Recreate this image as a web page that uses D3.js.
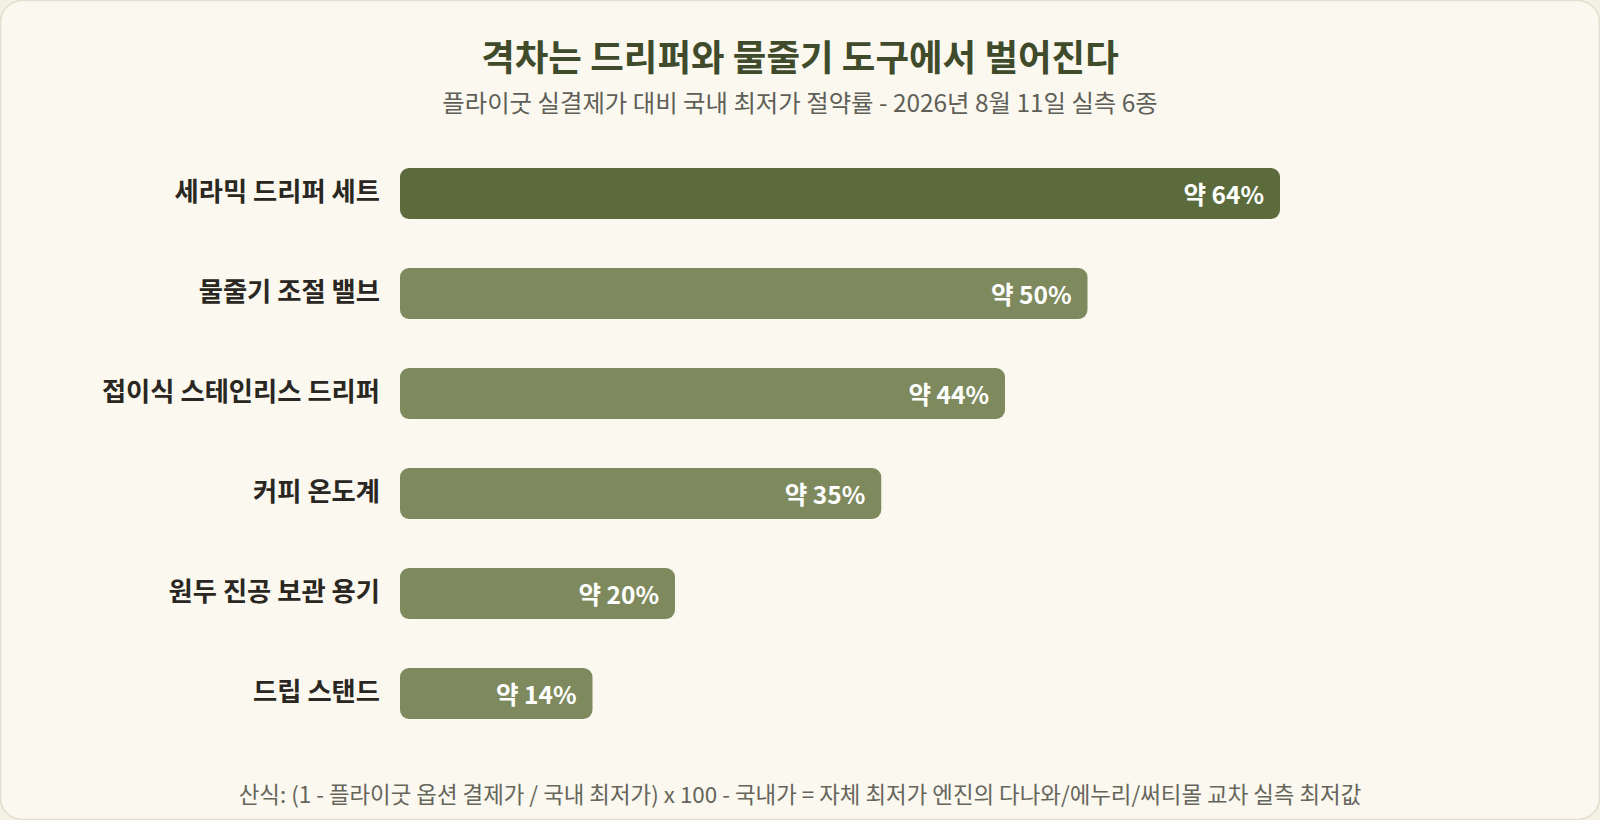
<!DOCTYPE html>
<html>
<head>
<meta charset="utf-8">
<style>
  html, body { margin: 0; padding: 0; background: #f3f0e4; }
  body { width: 1600px; height: 820px; overflow: hidden; }
  svg { display: block; font-family: "Noto Sans CJK KR", "Noto Sans", sans-serif; }
</style>
</head>
<body>
<svg id="chart" width="1600" height="820"></svg>

<script src="https://d3js.org/d3.v7.min.js"></script>
<script>
// data
var items = ["세라믹 드리퍼 세트", "물줄기 조절 밸브", "접이식 스테인리스 드리퍼", "커피 온도계", "원두 진공 보관 용기", "드립 스탠드"];
var savings = [64, 50, 44, 35, 20, 14];
var valueLabels = ["약 64%", "약 50%", "약 44%", "약 35%", "약 20%", "약 14%"];

var title = "격차는 드리퍼와 물줄기 도구에서 벌어진다";
var subtitle = "플라이굿 실결제가 대비 국내 최저가 절약률 - 2026년 8월 11일 실측 6종";
var footnote = "산식: (1 - 플라이굿 옵션 결제가 / 국내 최저가) x 100 - 국내가 = 자체 최저가 엔진의 다나와/에누리/써티몰 교차 실측 최저값";

var W = 1600, H = 820;
var svg = d3.select("#chart");

// card
svg.append("rect")
  .attr("x", 0.5).attr("y", 0.5)
  .attr("width", W - 1).attr("height", H - 1)
  .attr("rx", 22)
  .attr("fill", "#faf8ef")
  .attr("stroke", "#e3dfcf")
  .attr("stroke-width", 1.5);

svg.append("text")
  .attr("x", W / 2).attr("y", 71)
  .attr("text-anchor", "middle")
  .attr("font-size", 36.5).attr("font-weight", 700)
  .attr("fill", "#3f4b2b")
  .text(title);

svg.append("text")
  .attr("x", W / 2).attr("y", 112)
  .attr("text-anchor", "middle")
  .attr("font-size", 24.4)
  .attr("fill", "#5f5f58")
  .text(subtitle);

var data = items.map(function(d, i) {
  return { name: d, value: savings[i], label: valueLabels[i] };
});

var x = d3.scaleLinear().domain([0, 80]).range([400, 1500]);
var y = d3.scaleBand().domain(items).range([119, 768]).padding(0.49);

var rows = svg.append("g").selectAll("g")
  .data(data)
  .join("g");

rows.append("rect")
  .attr("x", x(0))
  .attr("y", function(d) { return y(d.name); })
  .attr("width", function(d) { return x(d.value) - x(0); })
  .attr("height", y.bandwidth())
  .attr("rx", 9)
  .attr("fill", function(d, i) { return i === 0 ? "#5b6b3b" : "#7e8a5e"; });

rows.append("text")
  .attr("x", x(0) - 20)
  .attr("y", function(d) { return y(d.name) + y.bandwidth() / 2 + 7; })
  .attr("text-anchor", "end")
  .attr("font-size", 26.3).attr("font-weight", 600)
  .attr("fill", "#2a2722")
  .text(function(d) { return d.name; });

rows.append("text")
  .attr("x", function(d) { return x(d.value) - 16; })
  .attr("y", function(d) { return y(d.name) + y.bandwidth() / 2 + 10; })
  .attr("text-anchor", "end")
  .attr("font-size", 24.5).attr("font-weight", 700)
  .attr("fill", "#ffffff")
  .text(function(d) { return d.label; });

svg.append("text")
  .attr("x", W / 2).attr("y", 803)
  .attr("text-anchor", "middle")
  .attr("font-size", 22.4)
  .attr("fill", "#66655c")
  .text(footnote);
</script>
</body>
</html>
